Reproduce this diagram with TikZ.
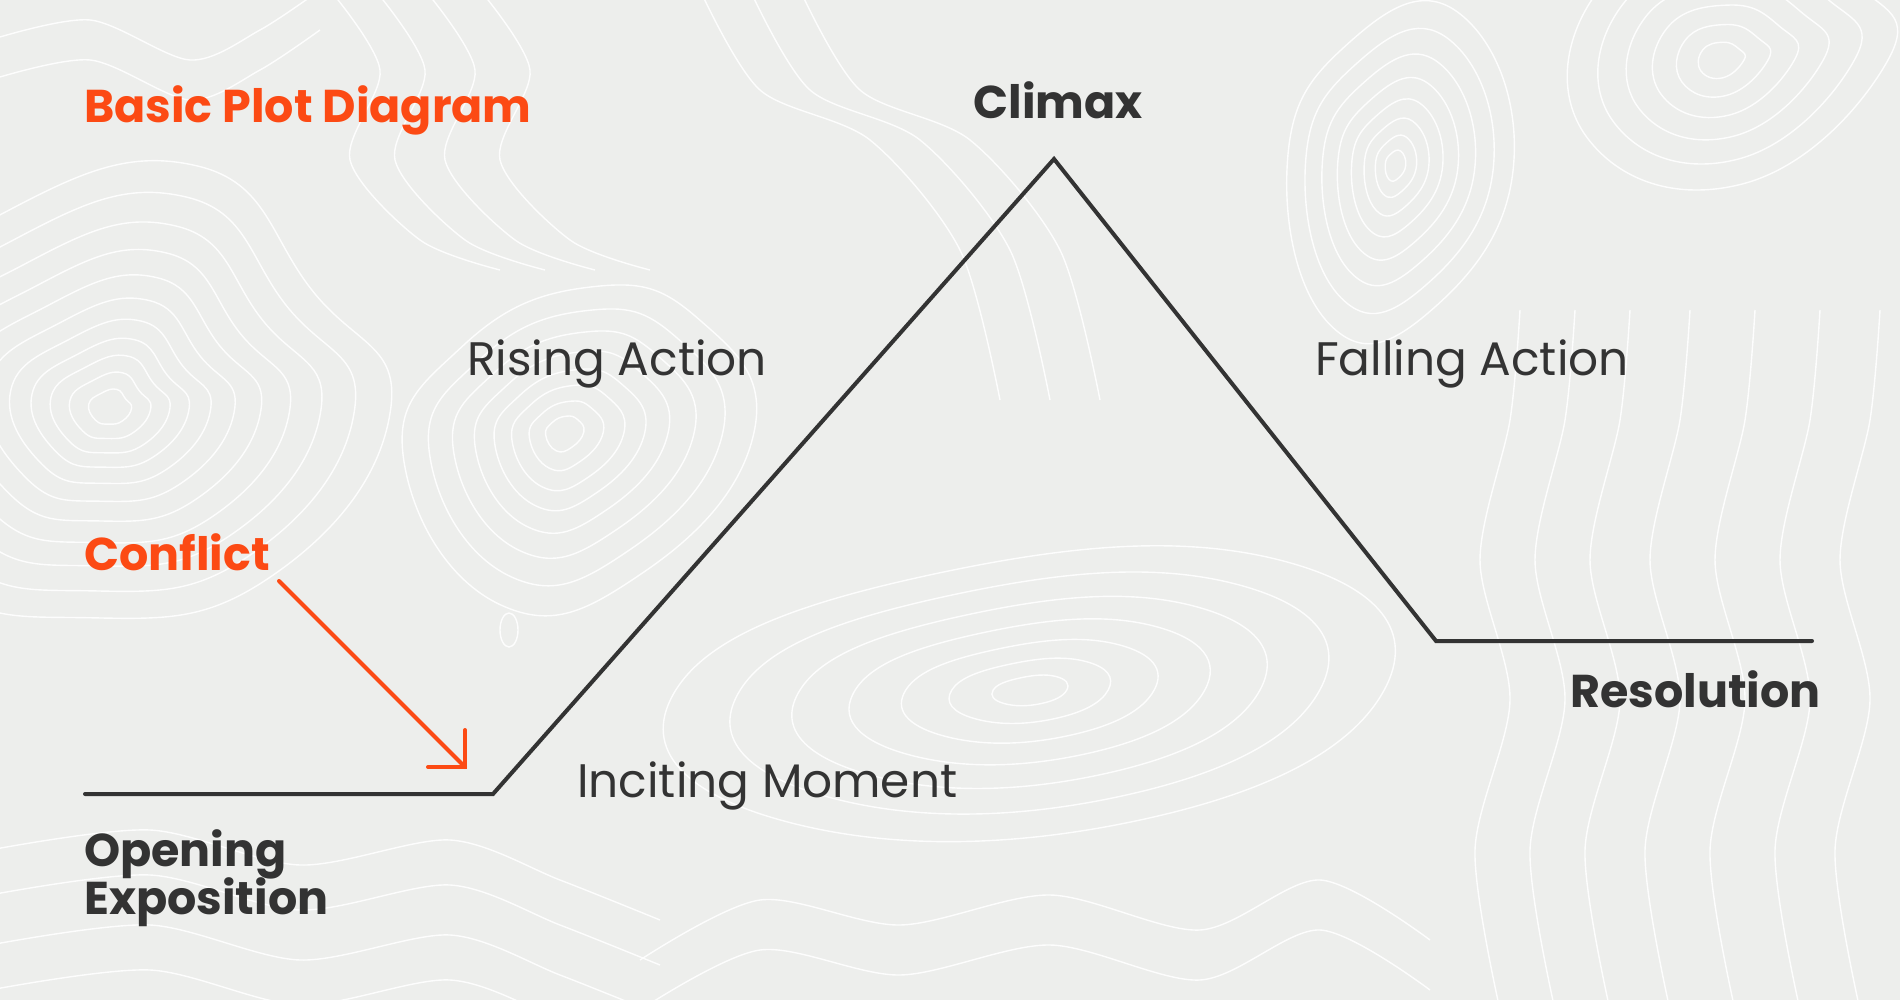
\documentclass[tikz,border=0pt]{standalone}
\usepackage{fontspec}
\setmainfont{Poppins}
\definecolor{bg}{HTML}{EDEEEC}
\definecolor{ink}{HTML}{333333}
\definecolor{org}{HTML}{FC4A14}
\begin{document}
\begin{tikzpicture}[x=1pt,y=-1pt,
  contour/.style={draw=white, line width=1.4pt, opacity=0.9},
  boldlbl/.style={font=\fontsize{46}{46}\selectfont\bfseries, text=ink, inner sep=0, anchor=base west},
  reglbl/.style={font=\fontsize{47}{47}\selectfont, text=ink, inner sep=0, anchor=base west},
  plotline/.style={draw=ink, line width=4pt, line join=miter, line cap=round},
  conflictarrow/.style={draw=org, line width=4pt, line cap=round, line join=miter}]
\useasboundingbox (0,0) rectangle (1900,1000);
\fill[bg] (0,0) rectangle (1900,1000);
\begin{scope}
\clip (0,0) rectangle (1900,1000);
% peak A
\begin{scope}[shift={(110,408)}]
\foreach \s in {18,34,50,66,84,104,126,150,176,204,234}
  \draw[contour, scale=\s] plot[smooth cycle, tension=0.8] coordinates {(0:1.2) (45:1.0) (95:0.9) (140:1.05) (190:1.2) (240:0.95) (290:1.1) (330:1.0)};
\end{scope}
% peak B
\begin{scope}[shift={(563,432)}]
\foreach \s in {16,31,47,63,81,101,123,147}
  \draw[contour, scale=\s] plot[smooth cycle, tension=0.8] coordinates {(0:1.3) (60:1.1) (110:1.25) (170:1.1) (220:0.9) (280:1.0) (320:1.2)};
\end{scope}
\draw[contour] (509,630) ellipse [x radius=9, y radius=17];
% peak C
\begin{scope}[shift={(1395,165)}, xscale=0.7]
\foreach \s in {14,28,44,62,82,104,128,154}
  \draw[contour, scale=\s] plot[smooth cycle, tension=0.8] coordinates {(0:1.1) (70:1.0) (120:1.2) (180:1.0) (240:0.9) (300:1.15)};
\end{scope}
% peak D
\begin{scope}[shift={(1720,60)}]
\foreach \s in {20,40,62,86,112,140}
  \draw[contour, scale=\s] plot[smooth cycle, tension=0.8] coordinates {(0:1.2) (80:0.9) (150:1.1) (210:1.0) (280:0.9) (330:1.1)};
\end{scope}
% basin E
\begin{scope}[shift={(1030,690)}, xscale=2.3]
\foreach \s in {16,34,54,76,100,126,154}
  \draw[contour, scale=\s] plot[smooth cycle, tension=0.8] coordinates {(0:1) (70:0.9) (130:1.1) (180:1) (250:0.8) (310:1.1)};
\end{scope}
% right vertical lines
\foreach \x in {1490,1545,1600,1660,1725,1790,1850}
  \draw[contour] plot[smooth] coordinates {(\x+30,310) (\x+20,420) (\x-10,560) (\x+20,700) (\x-15,850) (\x+10,1010)};
% bottom-left lines
\foreach \y in {850,895,945,990}
  \draw[contour] plot[smooth] coordinates {(-10,\y) (150,\y-20) (300,\y+15) (450,\y-10) (560,\y+30) (660,\y+70)};
% bottom-middle lines
\foreach \y in {900,950}
  \draw[contour] plot[smooth] coordinates {(640,\y+60) (760,\y) (900,\y+25) (1050,\y-5) (1200,\y+30) (1320,\y-20) (1430,\y+40)};
% top lines
\foreach \o in {0,45,95,150}
  \draw[contour] plot[smooth] coordinates {(330+\o,-10) (380+\o,70) (350+\o,160) (420+\o,240) (500+\o,270)};
\foreach \o in {0,50,100}
  \draw[contour] plot[smooth] coordinates {(700+\o,-10) (760+\o,90) (870+\o,140) (960+\o,250) (1000+\o,400)};
% top-left lines
\foreach \o in {0,40}
  \draw[contour] plot[smooth] coordinates {(-10,40+\o) (90,20+\o) (190,60+\o) (260,30+\o) (320,-10+\o)};
\end{scope}

% plot line
\coordinate (open) at (85,794);
\coordinate (incite) at (493,794);
\coordinate (climax) at (1054,159);
\coordinate (resol) at (1436,641);
\coordinate (fin) at (1812,641);
\draw[plotline] (open) -- (incite) -- (climax) -- (resol) -- (fin);

% conflict arrow
\coordinate (cstart) at (279,581);
\coordinate (ctip) at (465,767);
\draw[conflictarrow] (cstart) -- (ctip);
\draw[conflictarrow] ([yshift=37pt]ctip) -- (ctip) -- ([xshift=-37pt]ctip);

% labels
\node[boldlbl, text=org] (title) at (84,123) {Basic Plot Diagram};
\node[boldlbl, anchor=base] (climaxlbl) at (1058,119) {Climax};
\node[reglbl] (rising) at (467,375) {Rising Action};
\node[reglbl] (falling) at (1315,375) {Falling Action};
\node[boldlbl, text=org] (conflict) at (84,570) {Conflict};
\node[reglbl] (inciting) at (577,797) {Inciting Moment};
\node[boldlbl, anchor=base east] (resolution) at (1821,707) {Resolution};
\node[boldlbl] (opening) at (84,866) {Opening};
\node[boldlbl] (exposition) at (84,914) {Exposition};
\end{tikzpicture}
\end{document}
